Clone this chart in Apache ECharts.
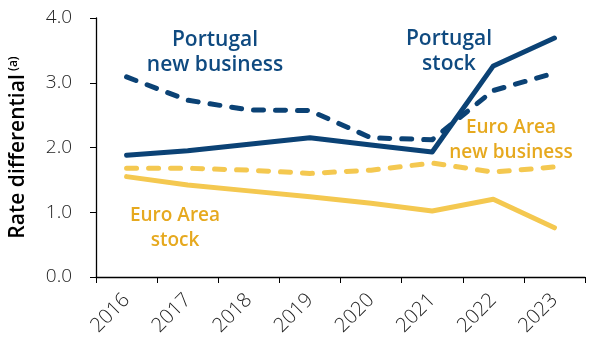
<!DOCTYPE html>
<html>
<head>
<meta charset="utf-8">
<script src="https://cdn.jsdelivr.net/npm/echarts@6/dist/echarts.min.js"></script>
<style>
  html, body { margin: 0; padding: 0; background: #fff; }
  #chart { width: 592px; height: 346px; }
</style>
</head>
<body>
<div id="chart"></div>
<script>
// Years on the horizontal axis
const years = ['2016', '2017', '2018', '2019', '2020', '2021', '2022', '2023'];

// Rate differentials, percentage points
const portugalStock = [1.88, 1.95, 2.05, 2.15, 2.04, 1.93, 3.26, 3.69];
const portugalNewBusiness = [3.09, 2.73, 2.58, 2.57, 2.15, 2.12, 2.88, 3.15];
const euroAreaStock = [1.55, 1.42, 1.33, 1.24, 1.14, 1.02, 1.20, 0.76];
const euroAreaNewBusiness = [1.68, 1.68, 1.65, 1.60, 1.65, 1.76, 1.62, 1.70];

const BLUE = '#0b4275';
const YELLOW = '#f4c850';
const BLUE_TEXT = '#0f4a80';
const YELLOW_TEXT = '#e6a91f';
const FONT = '"Open Sans", "Noto Sans", sans-serif';

const chart = echarts.init(document.getElementById('chart'));

function lineSeries(name, data, color, dashed) {
  return {
    name: name,
    type: 'line',
    data: data,
    symbol: 'none',
    z: dashed ? 2 : 3,
    lineStyle: {
      color: color,
      width: 5,
      type: dashed ? [10, 12] : 'solid',
      cap: 'round',
      join: 'round'
    }
  };
}

function note(text, x, y, color, size) {
  return {
    type: 'text',
    x: x,
    y: y,
    style: {
      text: text,
      fill: color,
      fontFamily: FONT,
      fontSize: size,
      fontWeight: 600,
      lineHeight: 25,
      align: 'center',
      verticalAlign: 'middle'
    }
  };
}

chart.setOption({
  animation: false,
  grid: { left: 92, right: 7, top: 18, bottom: 69 },
  xAxis: {
    type: 'category',
    data: years,
    boundaryGap: true,
    axisLine: { lineStyle: { color: '#000', width: 1.3 } },
    axisTick: { show: true, length: 6, lineStyle: { color: '#000' } },
    axisLabel: {
      rotate: 45,
      margin: 20,
      color: '#222',
      fontFamily: FONT,
      fontWeight: 300,
      fontSize: 20
    }
  },
  yAxis: {
    type: 'value',
    min: 0,
    max: 4,
    interval: 1,
    name: '{main|Rate differential} {sup|(a)}',
    nameLocation: 'middle',
    nameGap: 67,
    nameRotate: 90,
    nameTextStyle: {
      rich: {
        main: { fontFamily: FONT, fontSize: 21, fontWeight: 600, color: '#000' },
        sup: { fontFamily: FONT, fontSize: 12, fontWeight: 600, color: '#000', padding: [0, 0, 9, 0] }
      }
    },
    splitLine: { show: false },
    axisLine: { show: true, lineStyle: { color: '#000', width: 1.3 } },
    axisTick: { show: true, length: 6, lineStyle: { color: '#000' } },
    axisLabel: {
      margin: 24,
      color: '#222',
      fontFamily: FONT,
      fontWeight: 300,
      fontSize: 19,
      formatter: v => v.toFixed(1)
    }
  },
  series: [
    lineSeries('Euro Area new business', euroAreaNewBusiness, YELLOW, true),
    lineSeries('Euro Area stock', euroAreaStock, YELLOW, false),
    lineSeries('Portugal new business', portugalNewBusiness, BLUE, true),
    lineSeries('Portugal stock', portugalStock, BLUE, false)
  ],
  graphic: [
    note('Portugal\nnew business', 215, 53, BLUE_TEXT, 21),
    note('Portugal\nstock', 449, 52, BLUE_TEXT, 21),
    note('Euro Area\nnew business', 511, 140, YELLOW_TEXT, 19),
    note('Euro Area\nstock', 175, 228, YELLOW_TEXT, 19)
  ]
});
</script>
</body>
</html>
